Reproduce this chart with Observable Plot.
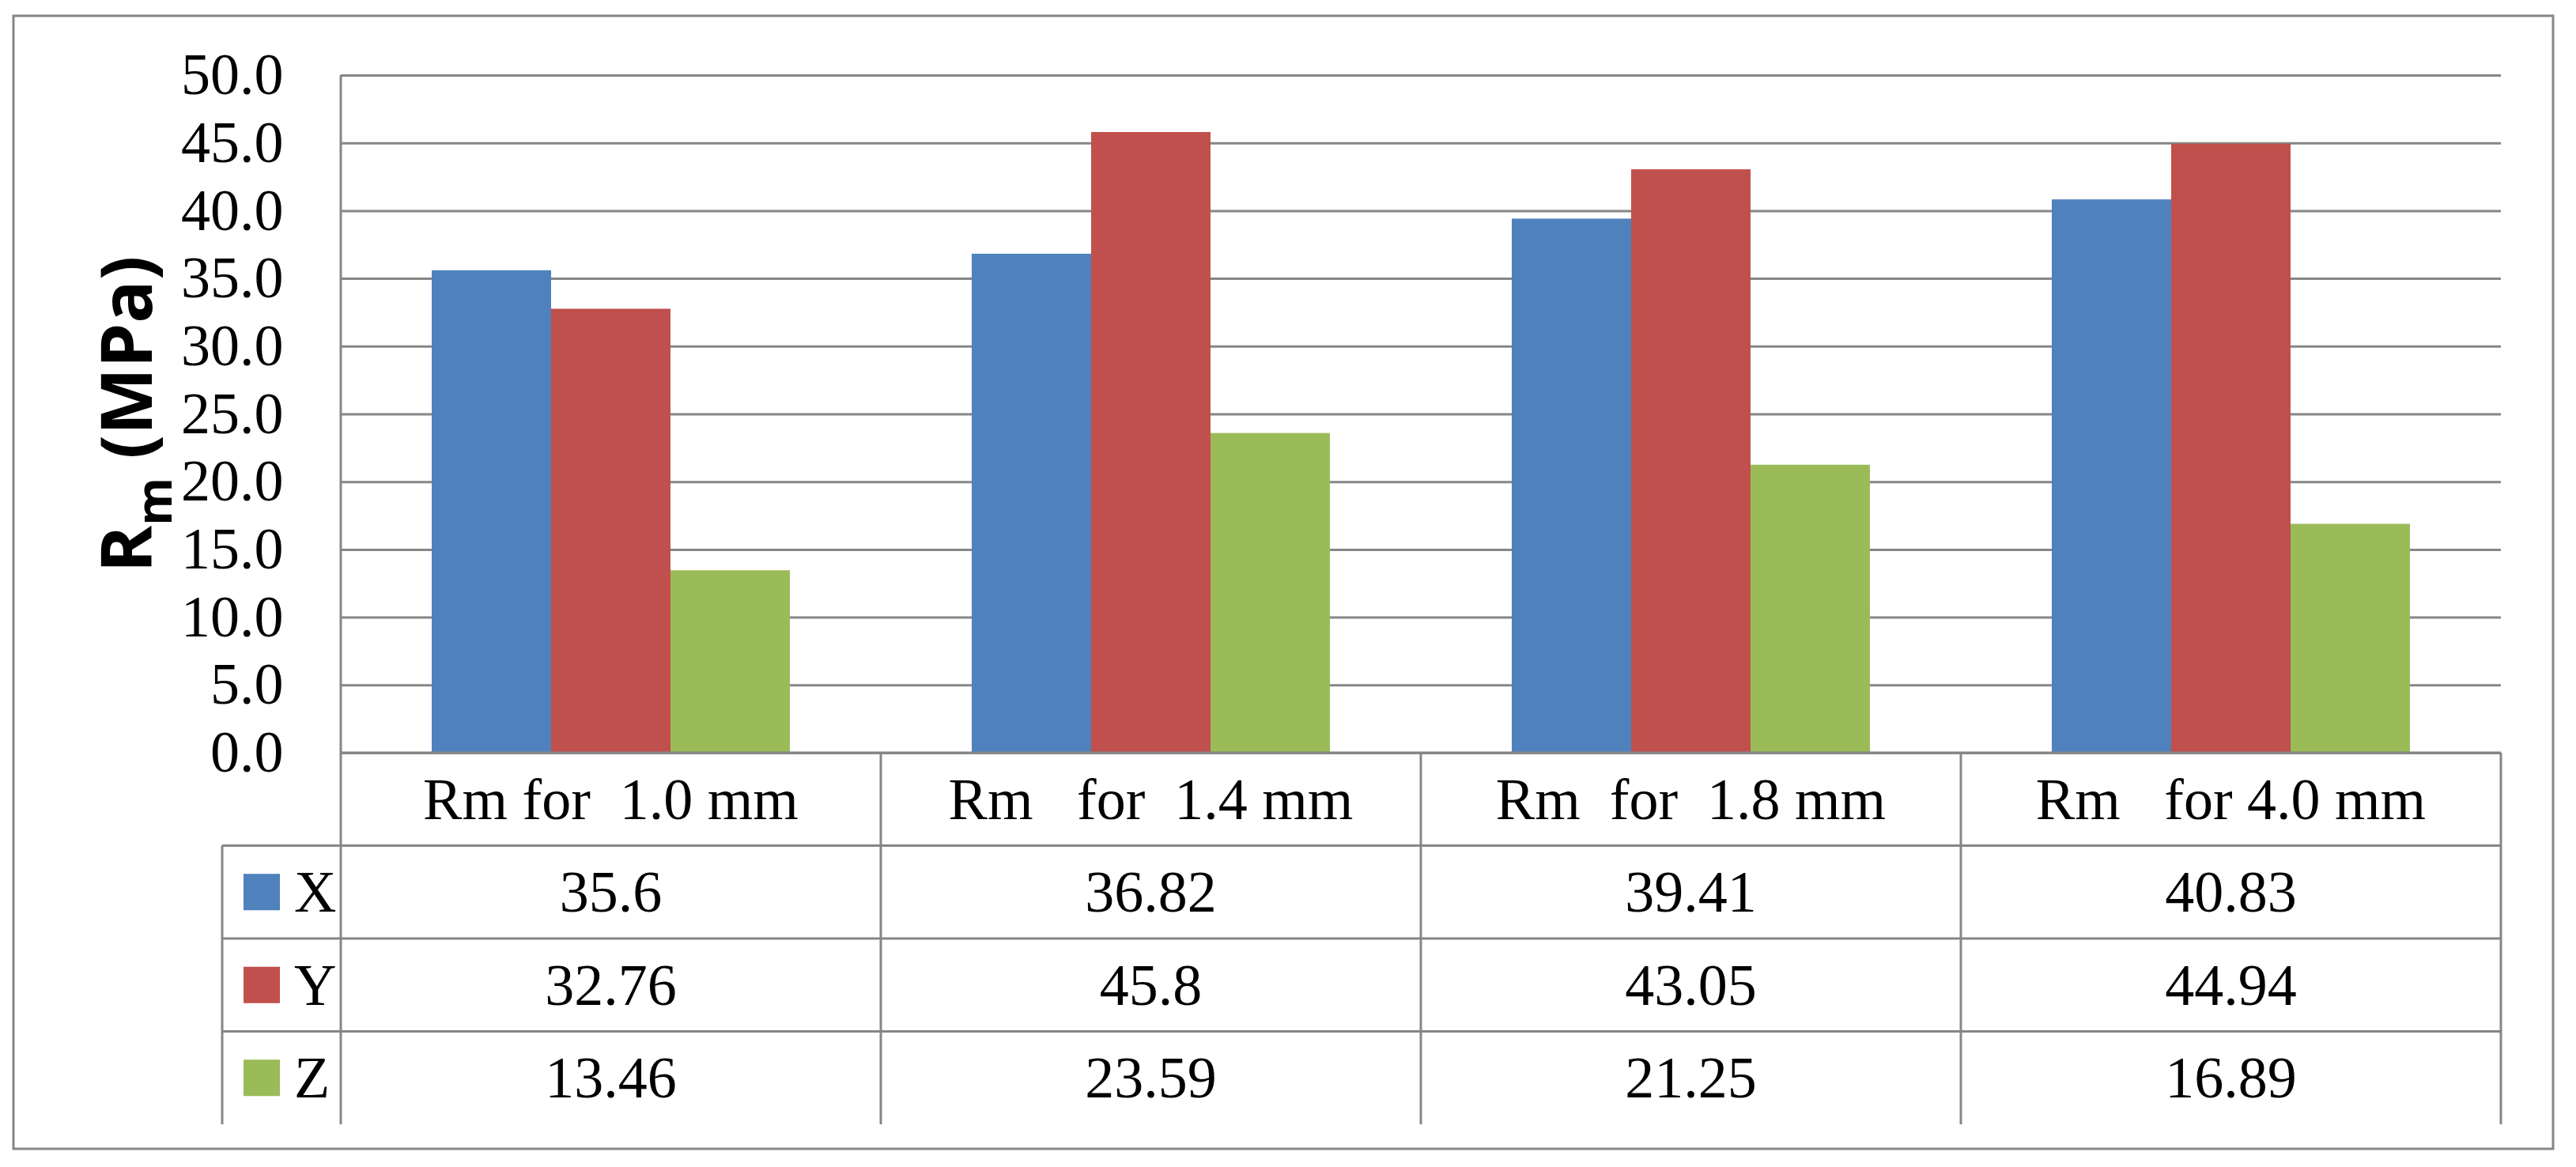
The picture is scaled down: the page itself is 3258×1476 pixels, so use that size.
<!DOCTYPE html>
<html>
<head>
<meta charset="utf-8">
<script src="https://cdn.jsdelivr.net/npm/d3@7"></script>
<script src="https://cdn.jsdelivr.net/npm/@observablehq/plot@0.6"></script>
<style>
  html, body { margin: 0; padding: 0; background: #fff; }
  #chart { width: 3258px; height: 1476px; }
</style>
</head>
<body>
<div id="chart"></div>
<script>
// ---- data ----
const categories = ["Rm for  1.0 mm", "Rm   for  1.4 mm", "Rm  for  1.8 mm", "Rm   for 4.0 mm"];
const seriesNames = ["X", "Y", "Z"];
const seriesColors = ["#4F81BD", "#C0504D", "#9BBB59"];
const valuesX = [35.6, 36.82, 39.41, 40.83];
const valuesY = [32.76, 45.8, 43.05, 44.94];
const valuesZ = [13.46, 23.59, 21.25, 16.89];
const yTicks = [0, 5, 10, 15, 20, 25, 30, 35, 40, 45, 50];
const yTitleMain = "R";
const yTitleSub = "m";
const yTitleRest = " (MPa)";

const seriesValues = [valuesX, valuesY, valuesZ];
const rows = seriesNames.flatMap((s, i) =>
  categories.map((c, j) => ({ category: c, series: s, value: seriesValues[i][j] }))
);

// ---- layout ----
const W = 3258, H = 1476;
const gray = "#868686";
const serif = "'Liberation Serif', 'Times New Roman', serif";
const fontPx = 74;

const chart = Plot.plot({
  width: W,
  height: H,
  marginLeft: 430,
  marginRight: 95,
  marginTop: 95,
  marginBottom: 524,
  style: { fontFamily: serif, fontSize: fontPx + "px", color: "#000", background: "#fff" },
  fx: { domain: categories, padding: 0, axis: null, label: null },
  x: { domain: seriesNames, paddingInner: 0, paddingOuter: 0.757, axis: null, label: null },
  y: { domain: [0, 50], label: null },
  color: { domain: seriesNames, range: seriesColors },
  marks: [
    Plot.gridY({ ticks: yTicks, stroke: gray, strokeOpacity: 1, strokeWidth: 3 }),
    Plot.barY(rows, { fx: "category", x: "series", y: "value", fill: "series" }),
    Plot.axisY({ ticks: yTicks, tickSize: 0, tickPadding: 73, tickFormat: d => d.toFixed(1), label: null, fontSize: fontPx })
  ]
});
document.getElementById("chart").appendChild(chart);

// ---- extra drawing: frame, data table, axis title ----
const svg = d3.select(chart);
const fx = chart.scale("fx");
const y = chart.scale("y");
const bw = fx.bandwidth;
const left = fx.apply(categories[0]);
const right = fx.apply(categories[categories.length - 1]) + bw;
const top0 = y.apply(0);
const rowH = 117.5;
const nRows = seriesNames.length + 1;
const tableBottom = top0 + rowH * nRows;
const legendLeft = 281;

const g = svg.append("g").attr("fill", "none").attr("stroke", gray).attr("stroke-width", 3);
// outer border
g.append("rect").attr("x", 17).attr("y", 20).attr("width", 3212).attr("height", 1433);
// vertical axis line (plot + table)
g.append("line").attr("x1", left).attr("x2", left).attr("y1", y.apply(50)).attr("y2", tableBottom);
// table horizontal lines
g.append("line").attr("x1", left).attr("x2", right).attr("y1", top0).attr("y2", top0);
for (let k = 1; k <= seriesNames.length; k++) {
  const yy = top0 + rowH * k;
  g.append("line").attr("x1", legendLeft).attr("x2", right).attr("y1", yy).attr("y2", yy);
}
// table vertical lines
categories.forEach(c => {
  const xx = fx.apply(c) + bw;
  g.append("line").attr("x1", xx).attr("x2", xx).attr("y1", top0).attr("y2", tableBottom);
});
g.append("line").attr("x1", legendLeft).attr("x2", legendLeft).attr("y1", top0 + rowH).attr("y2", tableBottom);

// table texts
const tg = svg.append("g").attr("font-family", serif).attr("font-size", fontPx).attr("fill", "#000");
const baseOff = 25;
categories.forEach(c => {
  tg.append("text")
    .attr("x", fx.apply(c) + bw / 2)
    .attr("y", top0 + rowH / 2 + baseOff)
    .attr("text-anchor", "middle")
    .attr("xml:space", "preserve")
    .style("white-space", "pre")
    .text(c);
});
seriesNames.forEach((s, i) => {
  const cy = top0 + rowH * (i + 1) + rowH / 2;
  tg.append("rect").attr("x", 308).attr("y", cy - 23).attr("width", 46).attr("height", 46).attr("fill", seriesColors[i]);
  tg.append("text").attr("x", 372).attr("y", cy + baseOff).attr("text-anchor", "start").text(s);
  categories.forEach((c, j) => {
    tg.append("text")
      .attr("x", fx.apply(c) + bw / 2)
      .attr("y", cy + baseOff)
      .attr("text-anchor", "middle")
      .text(String(seriesValues[i][j]));
  });
});

// y-axis title
const title = svg.append("text")
  .attr("transform", "translate(192,524) rotate(-90)")
  .attr("text-anchor", "middle")
  .attr("font-family", "'Open Sans', 'DejaVu Sans', sans-serif")
  .attr("font-weight", 700)
  .attr("font-size", 90)
  .attr("fill", "#000");
title.append("tspan").text(yTitleMain);
title.append("tspan").attr("font-size", 62).attr("dy", 25).text(yTitleSub);
title.append("tspan").attr("dy", -25).text(yTitleRest);
</script>
</body>
</html>
